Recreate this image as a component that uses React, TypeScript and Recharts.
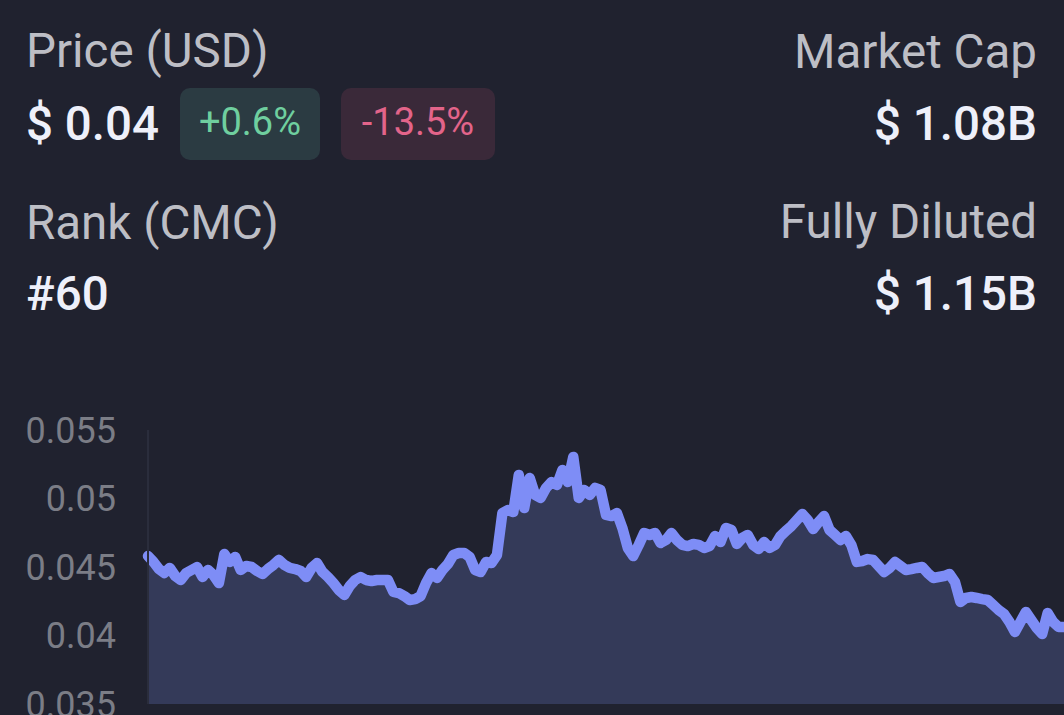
// Token price card: header stats + 7d price area chart
import { AreaChart, Area, XAxis, YAxis } from 'recharts';

const prices: number[] = [
  0.0458, 0.04537, 0.04485, 0.04456, 0.04493, 0.04434, 0.04405, 0.04456, 0.04478, 0.045,
  0.04427, 0.04478, 0.04442, 0.04383, 0.04595, 0.04537, 0.04573, 0.04478, 0.04507, 0.045,
  0.04471, 0.04449, 0.04485, 0.04515, 0.04551, 0.04515, 0.04493, 0.04485, 0.04471, 0.04427,
  0.04493, 0.04529, 0.04464, 0.04427, 0.04383, 0.04332, 0.04296, 0.04361, 0.04405, 0.04427,
  0.04405, 0.04398, 0.04405, 0.04405, 0.04405, 0.04318, 0.0431, 0.04288, 0.04259, 0.04266,
  0.04288, 0.04383, 0.04456, 0.0442, 0.04478, 0.04522, 0.04588, 0.04602, 0.04602, 0.04573,
  0.04478, 0.04464, 0.04537, 0.04529, 0.04588, 0.04894, 0.04916, 0.04901, 0.05172, 0.04931,
  0.0515, 0.05026, 0.05004, 0.05077, 0.0512, 0.05099, 0.05208, 0.0512, 0.05303, 0.05004,
  0.05062, 0.05026, 0.05077, 0.05062, 0.0488, 0.04872, 0.04894, 0.04785, 0.04639, 0.0458,
  0.04661, 0.04748, 0.04734, 0.04748, 0.04675, 0.04697, 0.04748, 0.04697, 0.04661, 0.04653,
  0.04668, 0.04661, 0.04639, 0.04653, 0.04726, 0.04682, 0.04785, 0.0477, 0.04668, 0.04712,
  0.04734, 0.04661, 0.04631, 0.04682, 0.04639, 0.04661, 0.04726, 0.04763, 0.04799, 0.04843,
  0.04887, 0.04843, 0.04777, 0.04828, 0.04872, 0.0477, 0.04734, 0.04697, 0.04726, 0.04661,
  0.04537, 0.04544, 0.04558, 0.04551, 0.04507, 0.04464, 0.04493, 0.04537, 0.04507, 0.04478,
  0.04485, 0.04493, 0.045, 0.04456, 0.0442, 0.04427, 0.04434, 0.04449, 0.04391, 0.04245,
  0.04274, 0.04281, 0.04274, 0.04266, 0.04259, 0.04223, 0.04186, 0.04157, 0.04099, 0.04026,
  0.04099, 0.04172, 0.04113, 0.04055, 0.04011, 0.04164, 0.04099, 0.04062, 0.04062,
];

const yTicks = [0.035, 0.04, 0.045, 0.05, 0.055];

const stats = {
  price: '$ 0.04',
  change24h: '+0.6%',
  change7d: '-13.5%',
  rank: '#60',
  marketCap: '$ 1.08B',
  fullyDiluted: '$ 1.15B',
};

const chartData = prices.map((p, i) => ({ hour: i, price: p }));

const BG = '#20222f';
const labelStyle = { fontSize: 47.5, fontWeight: 400, color: '#bdbec5', lineHeight: '46px' };
const valueStyle = { fontSize: 47.5, fontWeight: 500, color: '#eef0fa', lineHeight: '46px' };

export default function App() {
  return (
    <div
      style={{
        position: 'relative',
        width: 1064,
        height: 715,
        background: BG,
        overflow: 'hidden',
        fontFamily: 'Roboto, "Noto Sans", sans-serif',
      }}
    >
      <style>{`body{margin:0;background:${BG};}`}</style>

      {/* left column */}
      <div style={{ position: 'absolute', left: 26, top: 28, whiteSpace: 'nowrap', ...labelStyle }}>Price (USD)</div>
      <div style={{ position: 'absolute', left: 26, top: 101, whiteSpace: 'nowrap', ...valueStyle }}>{stats.price}</div>
      <div
        style={{
          position: 'absolute', left: 180, top: 88, width: 140, height: 72, borderRadius: 10,
          background: '#2b3b42', color: '#6fcf9f', fontSize: 38,
          display: 'flex', alignItems: 'center', justifyContent: 'center', paddingBottom: 4, boxSizing: 'border-box',
        }}
      >
        {stats.change24h}
      </div>
      <div
        style={{
          position: 'absolute', left: 341, top: 88, width: 154, height: 72, borderRadius: 10,
          background: '#3a2939', color: '#e3648a', fontSize: 38,
          display: 'flex', alignItems: 'center', justifyContent: 'center', paddingBottom: 4, boxSizing: 'border-box',
        }}
      >
        {stats.change7d}
      </div>
      <div style={{ position: 'absolute', left: 26, top: 200, whiteSpace: 'nowrap', ...labelStyle }}>Rank (CMC)</div>
      <div style={{ position: 'absolute', left: 26, top: 271, whiteSpace: 'nowrap', ...valueStyle }}>{stats.rank}</div>

      {/* right column */}
      <div style={{ position: 'absolute', right: 27, top: 29, whiteSpace: 'nowrap', textAlign: 'right', ...labelStyle }}>Market Cap</div>
      <div style={{ position: 'absolute', right: 27, top: 101, whiteSpace: 'nowrap', textAlign: 'right', ...valueStyle }}>{stats.marketCap}</div>
      <div style={{ position: 'absolute', right: 27, top: 199, whiteSpace: 'nowrap', textAlign: 'right', ...labelStyle }}>Fully Diluted</div>
      <div style={{ position: 'absolute', right: 27, top: 271, whiteSpace: 'nowrap', textAlign: 'right', ...valueStyle }}>{stats.fullyDiluted}</div>

      {/* price chart */}
      <div style={{ position: 'absolute', left: 0, top: 400 }}>
        <AreaChart width={1064} height={330} data={chartData} margin={{ top: 30, right: 0, left: 0, bottom: 26 }}>
          <XAxis dataKey="hour" type="number" domain={['dataMin', 'dataMax']} hide />
          <YAxis
            domain={[0.035, 0.055]}
            ticks={yTicks}
            interval={0}
            width={148}
            tickLine={false}
            axisLine={{ stroke: '#2a2d3c', strokeWidth: 2 }}
            tickMargin={26}
            tick={{ fill: '#7b7d86', fontSize: 36 }}
            allowDataOverflow
          />
          <Area
            type="linear"
            dataKey="price"
            stroke="#7e8df6"
            strokeWidth={10.5}
            strokeLinejoin="round"
            strokeLinecap="round"
            fill="#343a59"
            fillOpacity={1}
            isAnimationActive={false}
            dot={false}
            activeDot={false}
          />
        </AreaChart>
      </div>
    </div>
  );
}
